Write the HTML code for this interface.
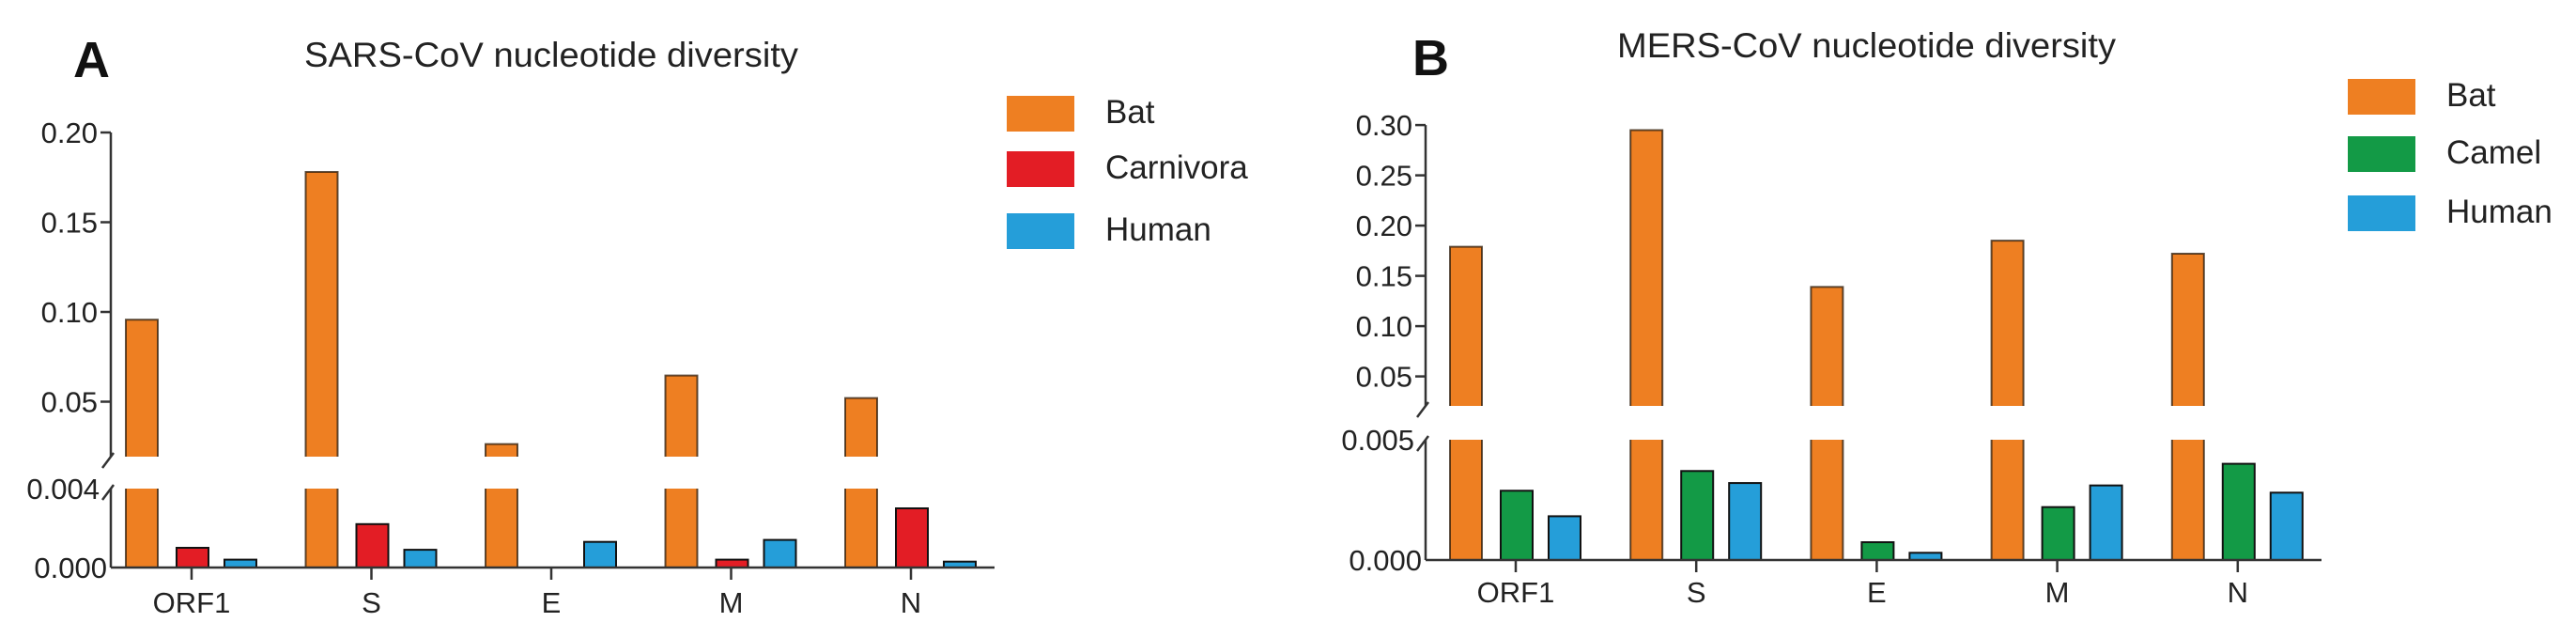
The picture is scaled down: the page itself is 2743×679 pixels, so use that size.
<!DOCTYPE html>
<html><head><meta charset="utf-8"><style>
html,body{margin:0;padding:0;background:#fff;}
svg{display:block;font-family:"Liberation Sans",Arial,sans-serif;}
</style></head><body>
<svg id="chart" width="2743" height="679" viewBox="0 0 2743 679" xmlns="http://www.w3.org/2000/svg"></svg>
<script>
const categories = ["ORF1","S","E","M","N"];
const sarsBat = [0.0957, 0.178, 0.0264, 0.0646, 0.052];
const sarsCarnivora = [0.0010, 0.0022, 0.0, 0.0004, 0.0030];
const sarsHuman = [0.0004, 0.0009, 0.0013, 0.0014, 0.0003];
const sarsUpperTicks = [0.05, 0.10, 0.15, 0.20];
const sarsUpperTickLabels = ["0.05","0.10","0.15","0.20"];
const sarsLowerTicks = [0.000, 0.004];
const sarsLowerTickLabels = ["0.000","0.004"];
const sarsSeries = ["Bat","Carnivora","Human"];

const mersBat = [0.179, 0.295, 0.139, 0.185, 0.172];
const mersCamel = [0.00288, 0.0037, 0.00074, 0.0022, 0.0040];
const mersHuman = [0.00182, 0.0032, 0.0003, 0.0031, 0.0028];
const mersUpperTicks = [0.05, 0.10, 0.15, 0.20, 0.25, 0.30];
const mersUpperTickLabels = ["0.05","0.10","0.15","0.20","0.25","0.30"];
const mersLowerTicks = [0.000, 0.005];
const mersLowerTickLabels = ["0.000","0.005"];
const mersSeries = ["Bat","Camel","Human"];

const NS = "http://www.w3.org/2000/svg";
const svg = document.getElementById("chart");
function mk(tag, attrs, parent){
  const e = document.createElementNS(NS, tag);
  for (const k in attrs) e.setAttribute(k, attrs[k]);
  (parent||svg).appendChild(e);
  return e;
}
function txt(s, attrs, parent){ const t = mk("text", attrs, parent); t.textContent = s; return t; }

function panel(o){
  const g = mk("g", {});
  
  
  // scales
  const yU = v => o.u05 - (v - 0.05) * o.uPer / 0.05;
  const yL = v => o.axisY - v * o.lPer / o.lMax;
  // heading
  const L = txt(o.letter, {x:o.letterX, y:o.letterY, "font-size":54, "font-weight":"bold", fill:"#111"}, g);
  
  
  const T = txt(o.title, {x:o.titleX, y:o.titleY, "font-size":37, fill:"#222", textLength:o.titleW, lengthAdjust:"spacingAndGlyphs"}, g);
  
  
  // y axis
  const ax = o.axisX;
  const ya = mk("path", {d:`M${ax} ${yU(o.upperTicks[o.upperTicks.length-1])}V${o.breakTop} M${ax} ${o.breakBot}V${o.axisY}`, stroke:"#333", "stroke-width":2.5, fill:"none"}, g);
  
  
  const br = mk("path", {d:`M${ax-9} ${o.breakTop+12}L${ax+3} ${o.breakTop-4} M${ax-9} ${o.breakBot+12}L${ax+3} ${o.breakBot-4}`, stroke:"#333", "stroke-width":2.5, fill:"none"}, g);
  
  
  o.upperTicks.forEach((v,i)=>{
    const y = yU(v);
    const tk = mk("line", {x1:ax-11, x2:ax, y1:y, y2:y, stroke:"#333", "stroke-width":2.5}, g);
    
    
    const lb = txt(o.upperLabels[i], {x:ax-14, y:y+11, "font-size":31, "text-anchor":"end", fill:"#222"}, g);
    
    
  });
  o.lowerTicks.forEach((v,i)=>{
    const y = yL(v);
    if (v > 0) {
      const lb = txt(o.lowerLabels[i], {x:ax-12, y:y+11, "font-size":31, "text-anchor":"end", fill:"#222"}, g);
      
      
    } else {
      const lb = txt(o.lowerLabels[i], {x:ax-4, y:y+11, "font-size":31, "text-anchor":"end", fill:"#222"}, g);
      
      
    }
  });
  // bars
  const offs = [-70, -16, 35], bw = 34;
  o.series.forEach((vals, si)=>{
    vals.forEach((v, ci)=>{
      const cx = o.x0 + ci * o.step;
      const x = cx + offs[si];
      const bg = mk("g", {}, g);
      
      
      if (v <= 0) return;
      if (v > o.lMax) {
        const yt = yU(v);
        mk("rect", {x:x, y:yt, width:bw, height:o.breakTop-yt, fill:o.colors[si]}, bg);
        mk("path", {d:`M${x} ${o.breakTop}V${yt}H${x+bw}V${o.breakTop}`, stroke:"#2a1a0a", "stroke-width":2, fill:"none", "stroke-opacity":0.75}, bg);
        mk("rect", {x:x, y:o.breakBot, width:bw, height:o.axisY-o.breakBot, fill:o.colors[si]}, bg);
        mk("path", {d:`M${x} ${o.breakBot}V${o.axisY} M${x+bw} ${o.breakBot}V${o.axisY}`, stroke:"#2a1a0a", "stroke-width":2, fill:"none", "stroke-opacity":0.75}, bg);
      } else {
        const yt = yL(v);
        mk("rect", {x:x, y:yt, width:bw, height:o.axisY-yt, fill:o.colors[si], stroke:"#111", "stroke-width":2}, bg);
      }
    });
  });
  // x axis
  const xa = mk("line", {x1:ax, x2:o.axisEnd, y1:o.axisY, y2:o.axisY, stroke:"#333", "stroke-width":2.5}, g);
  
  
  categories.forEach((c, ci)=>{
    const cx = o.x0 + ci * o.step;
    const tk = mk("line", {x1:cx, x2:cx, y1:o.axisY, y2:o.axisY+13, stroke:"#333", "stroke-width":2.5}, g);
    
    
    const lb = txt(c, {x:cx, y:o.catY, "font-size":31, "text-anchor":"middle", fill:"#222"}, g);
    
    
  });
  // legend
  o.seriesNames.forEach((n, si)=>{
    const lg = mk("g", {}, g);
    
    
    mk("rect", {x:o.legX, y:o.legY[si], width:72, height:38, fill:o.colors[si]}, lg);
    txt(n, {x:o.legX+105, y:o.legY[si]+29, "font-size":35, fill:"#222"}, lg);
  });
}

panel({name:"panel-a-sars", letter:"A", letterX:78, letterY:82, title:"SARS-CoV nucleotide diversity", titleX:324, titleY:71, titleW:526,
  axisX:118, axisY:604, axisEnd:1059, u05:427.5, uPer:95.5, lPer:84, lMax:0.004, breakTop:486, breakBot:520,
  upperTicks:sarsUpperTicks, upperLabels:sarsUpperTickLabels, lowerTicks:sarsLowerTicks, lowerLabels:sarsLowerTickLabels,
  x0:204, step:191.5, catY:652, series:[sarsBat, sarsCarnivora, sarsHuman], seriesNames:sarsSeries,
  colors:["#EE7F22","#E31D25","#259ED9"], legX:1072, legY:[102,161,227]});

panel({name:"panel-b-mers", letter:"B", letterX:1504, letterY:80, title:"MERS-CoV nucleotide diversity", titleX:1722, titleY:61, titleW:531,
  axisX:1518, axisY:596, axisEnd:2472, u05:400.6, uPer:53.5, lPer:128, lMax:0.005, breakTop:432, breakBot:468,
  upperTicks:mersUpperTicks, upperLabels:mersUpperTickLabels, lowerTicks:mersLowerTicks, lowerLabels:mersLowerTickLabels,
  x0:1614, step:192.2, catY:641, series:[mersBat, mersCamel, mersHuman], seriesNames:mersSeries,
  colors:["#EE7F22","#139A46","#259ED9"], legX:2500, legY:[84,145,208]});
</script>
</body></html>
